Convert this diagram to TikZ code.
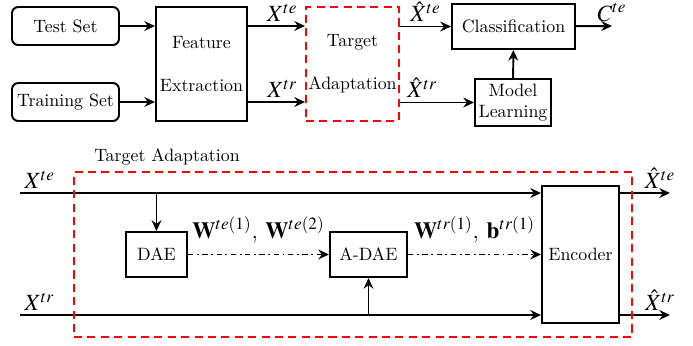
\documentclass[tikz,border=0pt]{standalone}
\usepackage{mathptmx}
\usepackage{amsmath}
\usepackage{tikz}
\usetikzlibrary{arrows.meta,positioning,calc}
\def\pxu{0.56pt}
\tikzset{
  box/.style 2 args={draw, line width=1.1pt, minimum width=#1*\pxu, minimum height=#2*\pxu,
               inner sep=1pt, align=center},
  srcbox/.style 2 args={box={#1}{#2}, rounded corners=3.5pt},
  tabox/.style 2 args={box={#1}{#2}, draw=red, dash pattern=on 4.5pt off 3pt},
  flow/.style={-{Stealth[length=6pt,width=5.5pt,inset=2pt]}, line width=1.1pt},
  wflow/.style={flow, dash pattern=on 3pt off 2pt on 1pt off 2pt},
  lbl/.style={font=\fontsize{13}{15}\selectfont, inner sep=2pt},
}
\def\yT{26}
\def\yR{102}
\def\yE{193}
\def\yF{315}
\begin{document}
\begin{tikzpicture}[x=\pxu, y=-\pxu]
  \useasboundingbox (0,0) rectangle (693,345);
  % overview
  \node[srcbox={107}{38}] (test) at (65.5,\yT) {Test Set};
  \node[srcbox={107}{38}] (train) at (65.5,\yR) {Training Set};
  \node[box={91}{114}] (fe) at (201.5,64) {Feature\\[12pt]Extraction};
  \node[tabox={93}{114}] (ta) at (352.5,64) {Target\\[12pt]Adaptation};
  \node[box={123}{45}] (cls) at (513.5,26.5) {Classification};
  \node[box={76}{47}] (ml) at (513,102.5) {Model\\Learning};
  \coordinate (cte) at (612,\yT);
  \draw[flow] (test) -- (test -| fe.west);
  \draw[flow] (train) -- (train -| fe.west);
  \draw[flow] (fe.east |- test) -- node[lbl, pos=0.6, above] {$X^{te}$} (ta.west |- test);
  \draw[flow] (fe.east |- train) -- node[lbl, pos=0.6, above] {$X^{tr}$} (ta.west |- train);
  \draw[flow] (ta.east |- cls) -- node[lbl, above] {$\hat{X}^{te}$} (cls);
  \draw[flow] (ta.east |- ml) -- node[lbl, pos=0.3, above] {$\hat{X}^{tr}$} (ml);
  \draw[flow] (cls) -- (cte) node[lbl, above] {$C^{te}$};
  \draw[flow] (ml) -- (cls);
  % target adaptation in detail
  \node (talbl) at (167,157) {Target Adaptation};
  \node[box={77}{137}] (enc) at (580.5,254.5) {Encoder};
  \node[box={61}{45}] (dae) at (156.5,254.5) {DAE};
  \node[box={77}{45}] (adae) at (368.5,254.5) {A-DAE};
  \coordinate (inte) at (20,\yE);
  \coordinate (intr) at (20,\yF);
  \coordinate (oute) at (670,\yE);
  \coordinate (outr) at (670,\yF);
  \draw[flow] (inte) node[lbl, above right] {$X^{te}$} -- (inte -| enc.west);
  \draw[flow] (intr) node[lbl, above right] {$X^{tr}$} -- (intr -| enc.west);
  \draw[flow] (dae.north |- inte) -- (dae);
  \draw[flow] (adae.south |- intr) -- (adae);
  \draw[wflow] (dae) -- node[lbl, above=4pt] {$\mathbf{W}^{te(1)}$, $\mathbf{W}^{te(2)}$} (adae);
  \draw[wflow] (adae) -- node[lbl, above=4pt] {$\mathbf{W}^{tr(1)}$, $\mathbf{b}^{tr(1)}$} (enc);
  \draw[flow] (enc.east |- inte) -- node[lbl, pos=0.8, above] {$\hat{X}^{te}$} (oute);
  \draw[flow] (enc.east |- intr) -- node[lbl, pos=0.8, above] {$\hat{X}^{tr}$} (outr);
  \node[tabox={558}{165}] (tabig) at (353,254.5) {};
\end{tikzpicture}
\end{document}
